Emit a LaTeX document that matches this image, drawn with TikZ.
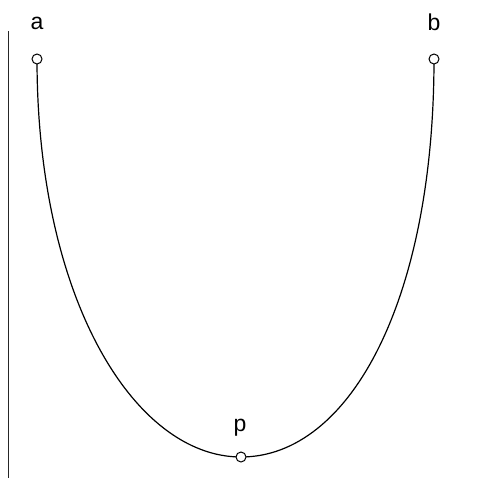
\documentclass[tikz,border=0pt]{standalone}
\usepackage{fontspec}
\setmainfont{Liberation Sans}
\begin{document}
\begin{tikzpicture}[x=1pt,y=-1pt,
  pt/.style={circle,draw=black,fill=white,line width=1pt,inner sep=0pt,minimum size=10pt},
  lbl/.style={font=\fontsize{23}{27}\selectfont,inner sep=0pt},
  curve/.style={line width=1.2pt,black}]
\useasboundingbox (0,0) rectangle (482,482);
\coordinate (top) at (8.5,31);
\coordinate (bot) at (8.5,478);
\draw[line width=1pt,black!85] (top) -- (bot);
\coordinate (A) at (37,59);
\coordinate (B) at (434,59);
\coordinate (P) at (241,457);
\draw[curve] (A) .. controls (37,300) and (135,457) .. (P)
  .. controls (350,457) and (434,300) .. (B);
\node[pt] (a) at (A) {};
\node[pt] (b) at (B) {};
\node[pt] (p) at (P) {};
\node[lbl] at (37,23) {a};
\node[lbl] at (434,22) {b};
\node[lbl] at (240,428) {p};
\end{tikzpicture}
\end{document}
